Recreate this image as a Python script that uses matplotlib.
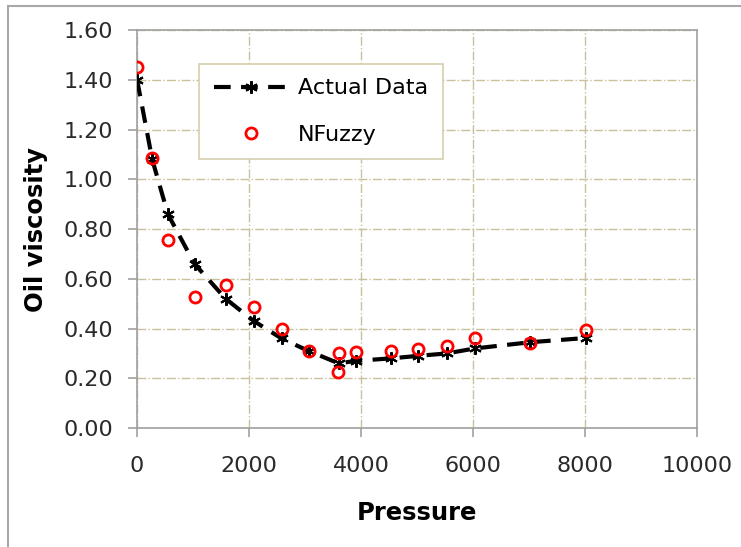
import matplotlib
matplotlib.use("Agg")
import matplotlib.pyplot as plt
from matplotlib.patches import Rectangle

pressure = [0, 270, 550, 1025, 1580, 2085, 2580, 3060, 3600, 3900, 4530, 5010, 5530, 6030, 7020, 8010]
actual = [1.40, 1.08, 0.86, 0.66, 0.52, 0.43, 0.36, 0.31, 0.26, 0.27, 0.28, 0.29, 0.30, 0.32, 0.345, 0.362]
nfuzzy_x = [0, 270, 550, 1025, 1580, 2085, 2580, 3060, 3580, 3605, 3910, 4530, 5010, 5530, 6030, 7020, 8010]
nfuzzy = [1.45, 1.085, 0.755, 0.525, 0.575, 0.485, 0.40, 0.31, 0.225, 0.30, 0.305, 0.31, 0.317, 0.328, 0.362, 0.343, 0.396]

plt.rcParams['font.family'] = ['DejaVu Sans']
grid_c = '#c9c19c'
spine_c = '#a0a0a0'

fig = plt.figure(figsize=(7.41, 5.47), dpi=100)
fig.patches.append(Rectangle((8 / 741, -0.05), 1.0, 1.05 - 6 / 547, transform=fig.transFigure,
                             fill=False, edgecolor='#a8a8a8', linewidth=1.5))
ax = fig.add_axes([0.185, 0.2175, 0.756, 0.7275])

ax.plot(pressure, actual, color='black', linestyle=(0, (4, 2.5)), linewidth=3,
        marker=(6, 2, 0), markersize=9, markeredgewidth=1.5, label='Actual Data', zorder=3)
ax.plot(nfuzzy_x, nfuzzy, linestyle='none', marker='o', markersize=8, markerfacecolor='none',
        markeredgecolor='red', markeredgewidth=2, label='NFuzzy', zorder=4)

ax.set_xlim(0, 10000)
ax.set_ylim(0, 1.6)
ax.set_xticks(range(0, 10001, 2000))
ax.set_yticks([i * 0.2 for i in range(9)])
ax.set_yticklabels([f'{i * 0.2:.2f}' for i in range(9)])
ax.grid(True, color=grid_c, linestyle='-.', linewidth=1)
ax.set_axisbelow(True)
for s in ax.spines.values():
    s.set_color(spine_c)
    s.set_linewidth(1.2)
ax.tick_params(colors='#2a2a2a', labelsize=16, length=6.5, color=spine_c, width=1.2)
ax.tick_params(axis='y', pad=11)
ax.tick_params(axis='x', pad=14)
ax.set_xlabel('Pressure', fontsize=17.5, fontweight='bold', labelpad=18)
ax.set_ylabel('Oil viscosity', fontsize=17.5, fontweight='bold', labelpad=11)

leg = ax.legend(loc='upper left', bbox_to_anchor=(0.111, 0.915), fontsize=16, frameon=True,
                fancybox=False, edgecolor='#d6cfae', handlelength=3.4, handletextpad=0.4,
                borderpad=0.65, borderaxespad=0, labelspacing=1.2, framealpha=1)
leg.get_frame().set_linewidth(1.2)

fig.savefig('out.png', dpi=100)
